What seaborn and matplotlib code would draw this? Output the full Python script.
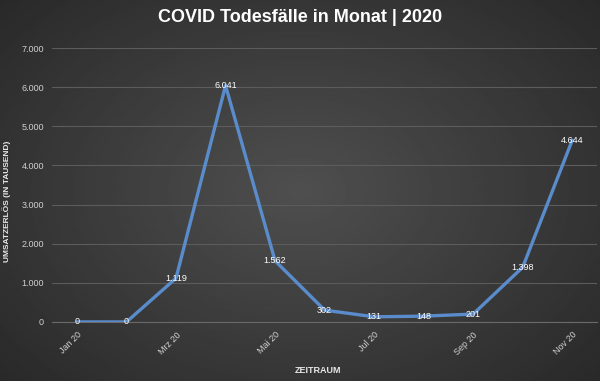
import numpy as np
import pandas as pd
import matplotlib
matplotlib.use("Agg")
import matplotlib.pyplot as plt
import seaborn as sns

# Data
months = ["Jan 20", "Feb 20", "Mrz 20", "Apr 20", "Mai 20", "Jun 20",
          "Jul 20", "Aug 20", "Sep 20", "Okt 20", "Nov 20"]
deaths = [0, 0, 1119, 6041, 1562, 302, 131, 148, 201, 1398, 4644]
y_ticks = [0, 1000, 2000, 3000, 4000, 5000, 6000, 7000]

df = pd.DataFrame({"month": months, "deaths": deaths, "pos": np.arange(len(months))})


def de_fmt(v):
    return "{:,}".format(int(v)).replace(",", ".")


sns.set_style("dark")
plt.rcParams["font.family"] = ["Liberation Sans", "DejaVu Sans"]

fig = plt.figure(figsize=(6, 3.81), dpi=100)

# dark radial background
bg = fig.add_axes([0, 0, 1, 1], zorder=-10)
yy, xx = np.mgrid[-1:1:200j, -1:1:300j]
r = np.sqrt(xx ** 2 + (yy * 0.9) ** 2)
bg.imshow(0.31 - 0.11 * r, cmap="gray", vmin=0, vmax=1, aspect="auto",
          extent=[0, 1, 0, 1])
bg.set_axis_off()

ax = fig.add_axes([0.087, 0.155, 0.908, 0.719])
ax.patch.set_alpha(0)

sns.lineplot(data=df, x="pos", y="deaths", color="#5a8ccc", linewidth=2.4,
             ax=ax, zorder=3)

for x, v in zip(df["pos"], df["deaths"]):
    ax.text(x, v, de_fmt(v), color="white", fontsize=6.5, ha="center",
            va="center", zorder=4)

ax.set_xlim(-0.5, len(months) - 0.5)
ax.set_ylim(0, 7000)
ax.set_yticks(y_ticks)
ax.set_yticklabels([de_fmt(t) for t in y_ticks], color="#d0d0d0", fontsize=6.5)
ax.set_xticks(df["pos"][::2])
ax.set_xticklabels(df["month"][::2], rotation=45, ha="right",
                   rotation_mode="anchor", color="#d0d0d0", fontsize=6.5)
ax.tick_params(axis="both", length=0, pad=6)

ax.grid(axis="y", color="#5c5c5c", linewidth=0.8)
ax.grid(axis="x", visible=False)
for s in ["top", "right", "left"]:
    ax.spines[s].set_visible(False)
ax.spines["bottom"].set_color("#6a6a6a")
ax.spines["bottom"].set_linewidth(0.8)

ax.set_xlabel("ZEITRAUM", color="#e8e8e8", fontsize=6.5, fontweight="bold")
ax.set_ylabel("UMSATZERLÖS (IN TAUSEND)", color="#e8e8e8", fontsize=6,
              fontweight="bold")
ax.xaxis.set_label_coords(0.488, -0.16)
ax.yaxis.set_label_coords(-0.075, 0.44)

fig.text(0.5, 0.955, "COVID Todesfälle in Monat | 2020", color="white",
         fontsize=13, fontweight="bold", ha="center", va="center")

fig.savefig("out.png", dpi=100)
